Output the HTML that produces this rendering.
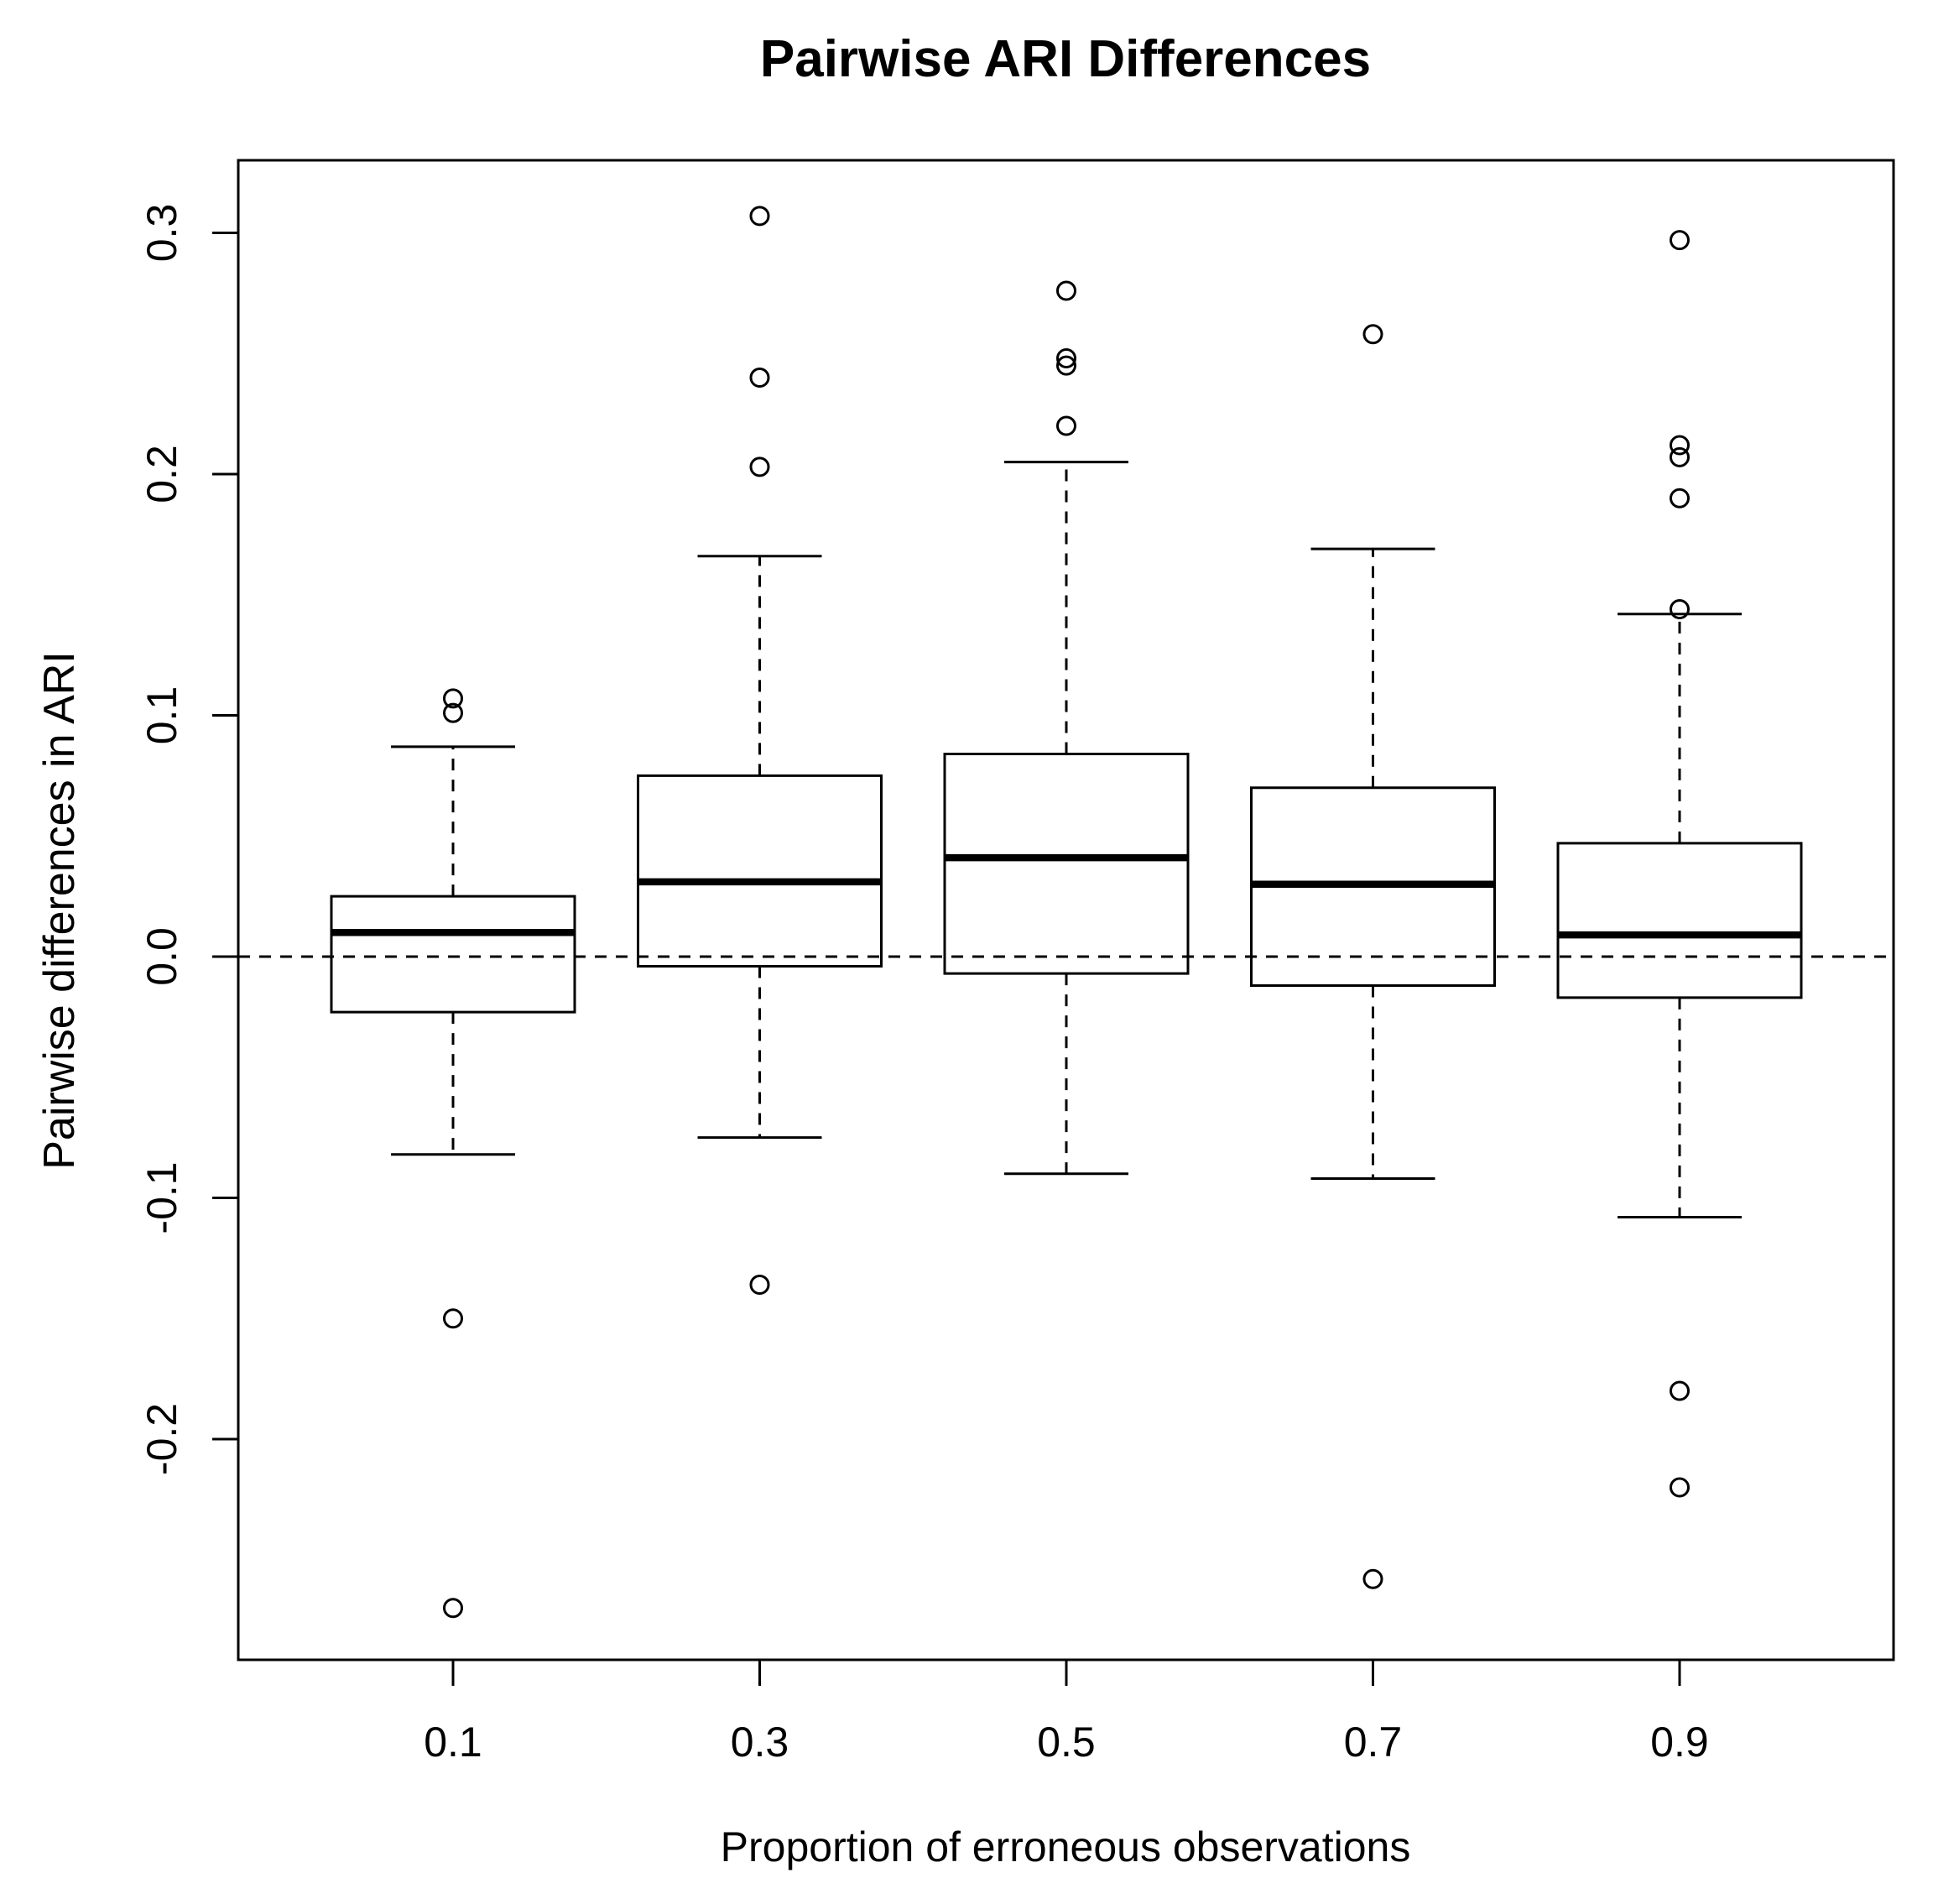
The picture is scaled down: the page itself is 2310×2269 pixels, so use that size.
<!DOCTYPE html>
<html><head><meta charset="utf-8"><style>
html,body{margin:0;padding:0;background:#fff;}
svg{display:block;font-family:"Liberation Sans",Arial,sans-serif;}
</style></head><body>
<svg id="chart" width="2310" height="2269" viewBox="0 0 2310 2269" xmlns="http://www.w3.org/2000/svg">
<rect width="2310" height="2269" fill="#fff"/>
<text x="1270" y="91" text-anchor="middle" font-size="62" font-weight="bold">Pairwise ARI Differences</text>
<text x="1270" y="2218" text-anchor="middle" font-size="50">Proportion of erroneous observations</text>
<text transform="translate(88,1085) rotate(-90)" text-anchor="middle" font-size="52">Pairwise differences in ARI</text>
<g id="marks"></g>
<rect x="284" y="191" width="1973" height="1787" fill="none" stroke="#000" stroke-width="3"/>
</svg>
<script>
const categories = ["0.1","0.3","0.5","0.7","0.9"];
const q1 = [-0.023,-0.004,-0.007,-0.012,-0.017];
const medians = [0.010,0.031,0.041,0.030,0.009];
const q3 = [0.025,0.075,0.084,0.070,0.047];
const whiskerLo = [-0.082,-0.075,-0.090,-0.092,-0.108];
const whiskerHi = [0.087,0.166,0.205,0.169,0.142];
const outliers = [
  [0.107,0.101,-0.150,-0.270],
  [0.307,0.240,0.203,-0.136],
  [0.276,0.248,0.245,0.220],
  [0.258,-0.258],
  [0.297,0.212,0.207,0.190,0.144,-0.180,-0.220]
];
const yTicks = [-0.2,-0.1,0.0,0.1,0.2,0.3];
const yTickLabels = ["-0.2","-0.1","0.0","0.1","0.2","0.3"];

const NS="http://www.w3.org/2000/svg";
const g=document.getElementById('marks');
function yS(v){return 1140-v*2875;}
function xS(i){return 540+i*365.5;}
const L=284,R=2257,B=1978;
const SW=3;
function el(t,a){const e=document.createElementNS(NS,t);for(const k in a)e.setAttribute(k,a[k]);g.appendChild(e);return e;}

let zl=el('line',{x1:L,x2:R,y1:yS(0),y2:yS(0),stroke:'#000','stroke-width':SW,'stroke-dasharray':'14,11'});



yTicks.forEach((v,i)=>{
  const t=el('line',{x1:L-31,x2:L,y1:yS(v),y2:yS(v),stroke:'#000','stroke-width':SW});
  
  
  const tx=el('text',{transform:`translate(210,${yS(v)}) rotate(-90)`,'text-anchor':'middle','font-size':50});
  tx.textContent=yTickLabels[i];
  
  
});

categories.forEach((c,i)=>{
  const x=xS(i),hw=145,cw=74;
  const t=el('line',{x1:x,x2:x,y1:B,y2:B+31,stroke:'#000','stroke-width':SW});
  
  
  const tx=el('text',{x:x,y:2093,'text-anchor':'middle','font-size':50});
  tx.textContent=c;
  
  
  const w1=el('line',{x1:x,x2:x,y1:yS(q3[i]),y2:yS(whiskerHi[i]),stroke:'#000','stroke-width':SW,'stroke-dasharray':'14,11'});
  
  
  const w2=el('line',{x1:x,x2:x,y1:yS(q1[i]),y2:yS(whiskerLo[i]),stroke:'#000','stroke-width':SW,'stroke-dasharray':'14,11'});
  
  
  const c1=el('line',{x1:x-cw,x2:x+cw,y1:yS(whiskerHi[i]),y2:yS(whiskerHi[i]),stroke:'#000','stroke-width':SW});
  
  
  const c2=el('line',{x1:x-cw,x2:x+cw,y1:yS(whiskerLo[i]),y2:yS(whiskerLo[i]),stroke:'#000','stroke-width':SW});
  
  
  const bx=el('rect',{x:x-hw,y:yS(q3[i]),width:2*hw,height:yS(q1[i])-yS(q3[i]),fill:'none',stroke:'#000','stroke-width':SW});
  
  
  const md=el('line',{x1:x-hw,x2:x+hw,y1:yS(medians[i]),y2:yS(medians[i]),stroke:'#000','stroke-width':8.5});
  
  
  outliers[i].forEach(v=>{
    const o=el('circle',{cx:x,cy:yS(v),r:10.5,fill:'none',stroke:'#000','stroke-width':SW});
    
    
  });
});
</script>
</body></html>
